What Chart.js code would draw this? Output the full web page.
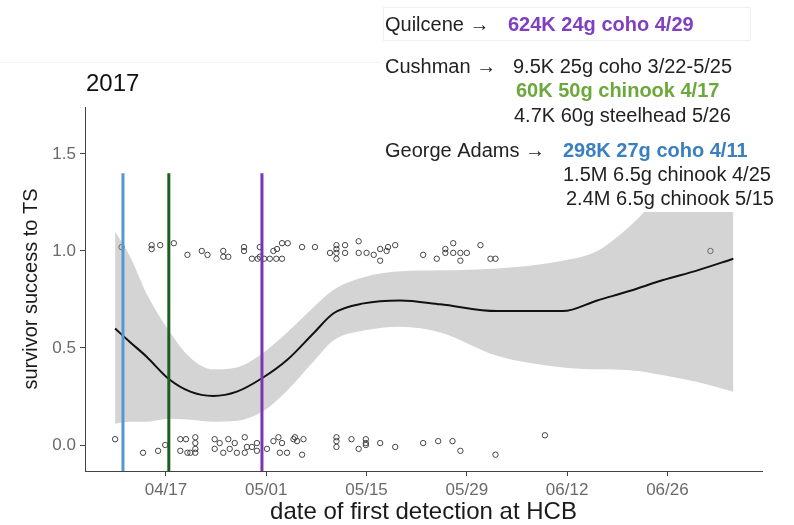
<!DOCTYPE html>
<html>
<head>
<meta charset="utf-8">
<title>2017 survivor success</title>
<script src="https://cdn.jsdelivr.net/npm/chart.js@4.4.1/dist/chart.umd.min.js"></script>
<style>
  html, body { margin: 0; padding: 0; background: #fff; }
  #wrap { width: 794px; height: 525px; }
</style>
</head>
<body>
<div id="wrap"><canvas id="survivalChart" width="794" height="525"></canvas></div>
<script>
// axis ticks (x is day of year 2017)
const xTickDays = [107, 121, 135, 149, 163, 177];
const xTickLabels = ['04/17', '05/01', '05/15', '05/29', '06/12', '06/26'];
const yTickValues = [0, 0.5, 1.0, 1.5];
const yTickLabels = ['0.0', '0.5', '1.0', '1.5'];

// individual fish: first detection day and (jittered) survival 0/1
const fishDays = [
  100.8, 105.0, 105.0, 106.2, 108.1, 110.0, 112.0, 112.8, 115.0, 115.0, 115.7, 117.9, 117.9,
  120.1, 120.1, 119.0, 119.8, 120.7, 121.5, 122.4, 123.2, 122.0, 122.5, 123.2, 124.0, 126.0,
  127.8, 129.9, 130.8, 130.8, 130.8, 130.8, 132.0, 132.0, 133.9, 133.9, 135.0, 136.0, 136.9,
  136.9, 137.8, 138.0, 139.0, 142.9, 144.8, 146.0, 146.0, 147.1, 147.1, 148.1, 148.1, 149.0,
  150.9, 152.3, 153.0, 183.0,
  99.9, 103.8, 105.9, 106.9, 109.0, 109.0, 109.8, 110.0, 111.1, 111.1, 111.1, 111.1, 110.4,
  113.8, 113.8, 114.5, 115.0, 115.7, 115.9, 116.6, 116.9, 118.0, 118.3, 119.0, 118.0, 119.7,
  119.7, 121.1, 122.0, 122.7, 123.2, 122.9, 123.9, 124.8, 125.3, 125.0, 126.2, 126.0, 130.8,
  130.8, 130.8, 132.9, 133.9, 134.9, 134.9, 134.9, 136.9, 139.0, 142.9, 145.0, 147.0, 148.1,
  153.0, 159.9
];
const fishSurvival = [
  1.02, 1.03, 1.01, 1.03, 1.04, 0.98, 1.00, 0.98, 1.00, 0.97, 0.97, 1.02, 1.00,
  1.02, 0.97, 0.96, 0.96, 0.96, 0.96, 0.96, 0.96, 1.00, 1.01, 1.04, 1.04, 1.02,
  1.02, 0.99, 1.03, 1.01, 0.99, 0.96, 1.03, 0.99, 1.05, 0.99, 0.99, 0.98, 1.01,
  0.95, 1.00, 1.02, 1.03, 0.98, 0.96, 1.01, 0.99, 1.04, 0.99, 0.99, 0.95, 0.99,
  1.03, 0.96, 0.96, 1.00,
  0.03, -0.04, -0.03, 0.00, 0.03, -0.03, 0.03, -0.04, 0.04, 0.01, -0.02, -0.04, -0.04,
  0.03, -0.02, 0.01, -0.04, 0.03, -0.02, 0.01, -0.04, 0.04, -0.01, -0.01, -0.04, 0.01,
  -0.03, -0.02, 0.02, 0.04, 0.01, -0.04, -0.04, 0.03, 0.02, 0.04, 0.03, -0.05, 0.04,
  0.02, -0.01, 0.03, -0.02, 0.03, 0.01, 0.00, 0.01, -0.01, 0.01, 0.02, 0.02, -0.03,
  -0.05, 0.05
];

// loess smooth and its confidence band
const smoothDays = [99.9, 102, 104.3, 107.4, 110.4, 113.6, 116.9, 120.4, 123.9, 127.6, 130.4,
  134.6, 139.7, 145.3, 153.2, 162.4, 167.2, 171.8, 176.4, 181.2, 186.2];
const smoothFit = [0.60, 0.53, 0.455, 0.34, 0.275, 0.253, 0.275, 0.344, 0.438, 0.576, 0.679,
  0.73, 0.745, 0.725, 0.69, 0.69, 0.745, 0.795, 0.85, 0.90, 0.96];
const smoothUpper = [1.10, 0.97, 0.78, 0.59, 0.45, 0.39, 0.40, 0.47, 0.58, 0.71, 0.80,
  0.865, 0.895, 0.90, 0.91, 0.95, 1.00, 1.13, 1.30, 1.45, 1.60];
const smoothLower = [0.11, 0.12, 0.12, 0.135, 0.13, 0.12, 0.125, 0.17, 0.28, 0.43, 0.54,
  0.59, 0.61, 0.58, 0.46, 0.40, 0.39, 0.385, 0.36, 0.325, 0.275];

// hatchery release dates drawn as vertical lines (blue, green, purple)
const releaseDays = [101, 107.4, 120.4];
const releaseTop = 1.4;
const yMin = -0.134;
const yMax = 1.742;

// release notes at the top right
const releaseNotes = [
  { site: 'Quilcene \u2192', lines: [{ text: '624K 24g coho 4/29', color: '#7f3fbf', bold: true }] },
  { site: 'Cushman \u2192', lines: [
    { text: '9.5K 25g coho 3/22-5/25', color: '#222', bold: false },
    { text: '60K 50g chinook 4/17', color: '#6ca83c', bold: true },
    { text: '4.7K 60g steelhead 5/26', color: '#222', bold: false }] },
  { site: 'George Adams \u2192', lines: [
    { text: '298K 27g coho 4/11', color: '#3a7fc0', bold: true },
    { text: '1.5M 6.5g chinook 4/25', color: '#222', bold: false },
    { text: '2.4M 6.5g chinook 5/15', color: '#222', bold: false }] }
];

const FONT = '"Liberation Sans", Arial, sans-serif';

function xy(xs, ys) {
  return xs.map((x, i) => ({ x: x, y: ys[i] }));
}

const releaseColors = ['#5598d0', '#1c5e1c', '#7a34b8'];
const releaseSets = releaseDays.map((d, i) => ({
  type: 'line',
  data: [{ x: d, y: yMin }, { x: d, y: releaseTop }],
  borderColor: releaseColors[i],
  borderWidth: 3,
  pointRadius: 0,
  order: 0
}));

// notes: white panel over the band, then the text
const notesPlugin = {
  id: 'notes',
  afterDraw(chart) {
    const ctx = chart.ctx;
    ctx.save();
    ctx.fillStyle = '#fff';
    ctx.fillRect(380, 4, 395, 40);
    ctx.fillRect(380, 48, 400, 164);
    ctx.strokeStyle = '#efefef';
    ctx.lineWidth = 1;
    ctx.strokeRect(383.5, 7.5, 367, 33);
    ctx.strokeStyle = '#f2f2f2';
    ctx.beginPath();
    ctx.moveTo(0, 62.5);
    ctx.lineTo(380, 62.5);
    ctx.stroke();

    ctx.textBaseline = 'middle';
    ctx.fillStyle = '#111';
    ctx.font = '24px ' + FONT;
    ctx.fillText('2017', 86, 84);

    const rowY = [[25], [67, 91, 116], [151, 175, 199]];
    const lineX = [[508], [513, 516, 514], [563, 563, 566]];
    releaseNotes.forEach((note, i) => {
      ctx.font = '20px ' + FONT;
      ctx.fillStyle = '#222';
      ctx.fillText(note.site, 385, rowY[i][0]);
      note.lines.forEach((ln, j) => {
        ctx.font = (ln.bold ? 'bold ' : '') + '20px ' + FONT;
        ctx.fillStyle = ln.color;
        ctx.fillText(ln.text, lineX[i][j], rowY[i][j]);
      });
    });
    ctx.restore();
  }
};

const survivalChart = new Chart(document.getElementById('survivalChart'), {
  type: 'scatter',
  data: {
    datasets: [
      ...releaseSets,
      {
        type: 'line',
        data: xy(smoothDays, smoothFit),
        borderColor: '#111',
        borderWidth: 2,
        pointRadius: 0,
        cubicInterpolationMode: 'monotone',
        order: 1
      },
      {
        type: 'line',
        data: xy(smoothDays, smoothLower),
        borderWidth: 0,
        borderColor: 'rgba(0,0,0,0)',
        pointRadius: 0,
        cubicInterpolationMode: 'monotone',
        fill: false,
        order: 3
      },
      {
        type: 'line',
        data: xy(smoothDays, smoothUpper),
        borderWidth: 0,
        borderColor: 'rgba(0,0,0,0)',
        backgroundColor: 'rgba(153,153,153,0.42)',
        pointRadius: 0,
        cubicInterpolationMode: 'monotone',
        fill: '-1',
        order: 2
      },
      {
        data: xy(fishDays, fishSurvival),
        pointRadius: 2.7,
        pointBorderWidth: 1,
        borderColor: '#444',
        backgroundColor: 'rgba(0,0,0,0)',
        order: 4
      }
    ]
  },
  options: {
    responsive: false,
    animation: false,
    layout: { padding: { top: 107, right: 32, bottom: 0, left: 0 } },
    plugins: {
      legend: { display: false },
      tooltip: { enabled: false }
    },
    scales: {
      x: {
        type: 'linear',
        min: 95.7,
        max: 190.2,
        afterBuildTicks: (scale) => { scale.ticks = xTickDays.map(v => ({ value: v })); },
        afterFit: (scale) => { scale.height = 54; },
        ticks: {
          callback: (v) => xTickLabels[xTickDays.indexOf(v)],
          color: '#6a6a6a',
          font: { family: FONT, size: 17 },
          padding: 4,
          maxRotation: 0,
          autoSkip: false
        },
        grid: { drawOnChartArea: false, drawTicks: true, tickLength: 5, color: '#444' },
        border: { display: true, color: '#444', width: 1 },
        title: {
          display: true,
          text: 'date of first detection at HCB',
          color: '#1a1a1a',
          font: { family: FONT, size: 24, lineHeight: 1.05 },
          padding: { top: 0, bottom: 0 }
        }
      },
      y: {
        min: yMin,
        max: yMax,
        afterBuildTicks: (scale) => { scale.ticks = yTickValues.map(v => ({ value: v })); },
        afterFit: (scale) => { scale.width = 85; },
        ticks: {
          callback: (v) => yTickLabels[yTickValues.indexOf(v)],
          color: '#6a6a6a',
          font: { family: FONT, size: 17 },
          padding: 4
        },
        grid: { drawOnChartArea: false, drawTicks: true, tickLength: 5, color: '#444' },
        border: { display: true, color: '#444', width: 1 },
        title: {
          display: true,
          text: 'survivor success to TS',
          color: '#1a1a1a',
          font: { family: FONT, size: 20, lineHeight: 1.2 },
          padding: { top: 19, bottom: 0 }
        }
      }
    }
  },
  plugins: [notesPlugin]
});
</script>
</body>
</html>
